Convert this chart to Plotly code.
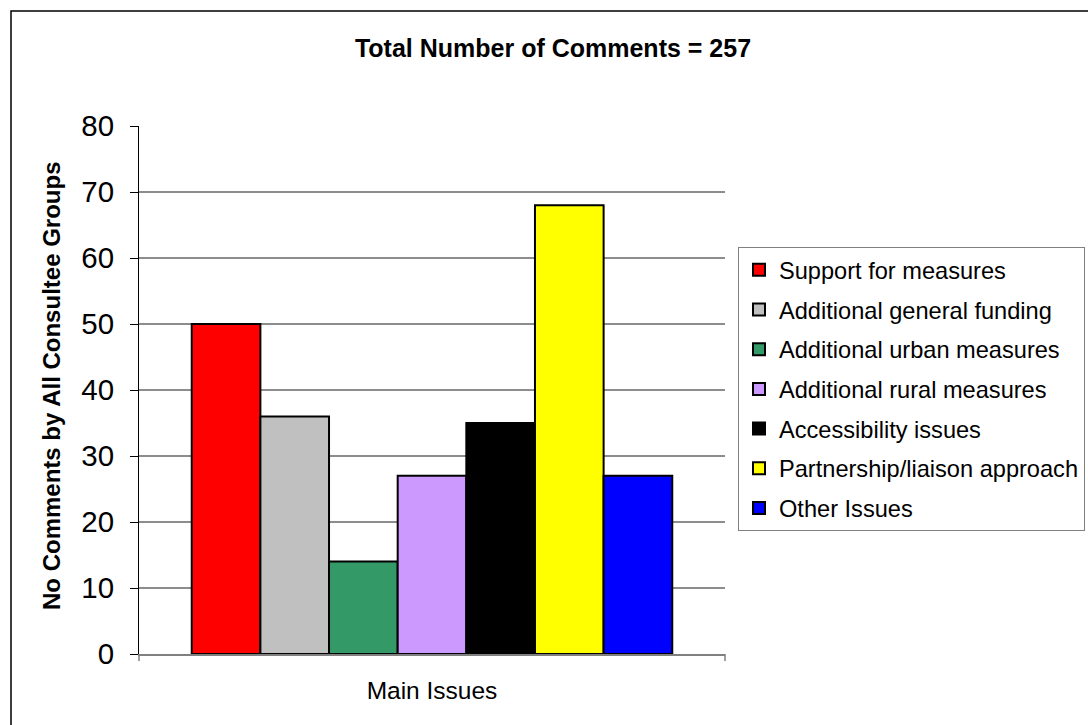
import plotly.graph_objects as go

# ---- data ----
category = ["Main Issues"]
series_names = [
    "Support for measures",
    "Additional general funding",
    "Additional urban measures",
    "Additional rural measures",
    "Accessibility issues",
    "Partnership/liaison approach",
    "Other Issues",
]
series_values = [50, 36, 14, 27, 35, 68, 27]
series_colors = ["#FF0000", "#C0C0C0", "#339966", "#CC99FF", "#000000", "#FFFF00", "#0000FF"]
y_ticks = [0, 10, 20, 30, 40, 50, 60, 70, 80]
grid_vals = [10, 20, 30, 40, 50, 60, 70]
title_text = "Total Number of Comments = 257"
y_title = "No Comments by All Consultee Groups"

W, H = 1088, 725
L, R, T, B = 139, 725, 126, 654  # plot area in px
FONT = "Liberation Sans, Arial, sans-serif"

fig = go.Figure()
for name, val, col in zip(series_names, series_values, series_colors):
    fig.add_trace(go.Bar(
        x=category, y=[val], name=name, legendgroup=name,
        marker=dict(color=col, line=dict(color="#000000", width=2)),
    ))

pw, ph = R - L, B - T

def px_x(v):
    return (v - L) / pw

def px_y(v):
    return (B - v) / ph

shapes = [
    # outer chart border (right/bottom edges fall outside the image)
    dict(type="rect", xref="paper", yref="paper",
         x0=px_x(11), x1=px_x(1110), y0=px_y(745), y1=px_y(11),
         line=dict(color="#000000", width=1.5), fillcolor="rgba(0,0,0,0)", layer="below"),
    # category boundary ticks on the x axis
    dict(type="line", xref="x domain", yref="y domain", x0=0, x1=0, y0=0, y1=-7 / ph,
         line=dict(color="#808080", width=1.5)),
    dict(type="line", xref="x domain", yref="y domain", x0=1, x1=1, y0=0, y1=-7 / ph,
         line=dict(color="#808080", width=1.5)),
]
# horizontal gridlines (not at the top of the axis)
for g in grid_vals:
    shapes.append(dict(type="line", xref="x domain", yref="y", x0=0, x1=1, y0=g, y1=g,
                       line=dict(color="#1a1a1a", width=1), layer="below"))

fig.update_layout(
    width=W, height=H,
    margin=dict(l=L, r=W - R, t=T, b=H - B, autoexpand=False),
    paper_bgcolor="white", plot_bgcolor="rgba(0,0,0,0)",
    font=dict(family=FONT, color="#000000"),
    barmode="group", bargap=0.18, bargroupgap=0,
    showlegend=True,
    title=dict(text=title_text, xref="container", yref="container",
               x=553 / W, xanchor="center", y=1 - 48 / H, yanchor="middle",
               font=dict(family=FONT, size=25, weight="bold", color="#000000")),
    xaxis=dict(
        type="category", showgrid=False, showline=True, linecolor="#808080", linewidth=1.5,
        ticks="", tickfont=dict(family=FONT, size=24.5), ticklabelstandoff=14,
        zeroline=False, fixedrange=True,
    ),
    yaxis=dict(
        range=[0, 80], tickvals=y_ticks, showgrid=False, zeroline=False,
        showline=True, linecolor="#000000", linewidth=1,
        ticks="outside", ticklen=8, tickcolor="#000000", tickwidth=1,
        tickfont=dict(family=FONT, size=29.5), ticklabelstandoff=10,
    ),
    legend=dict(
        xref="container", yref="container", x=738 / W, xanchor="left",
        y=1 - 247 / H, yanchor="top",
        bgcolor="white", bordercolor="#808080", borderwidth=1,
        font=dict(family=FONT, size=23.6, color="#000000"),
        tracegroupgap=6, traceorder="grouped",
    ),
    shapes=shapes,
    annotations=[dict(
        text=y_title, xref="paper", yref="paper", x=px_x(51), y=px_y(386),
        xanchor="center", yanchor="middle", textangle=-90, showarrow=False,
        font=dict(family=FONT, size=24, weight="bold", color="#000000"),
    )],
)

fig.write_html("out.html", config={"displayModeBar": False},
               post_script="document.body.style.margin='0';document.body.style.padding='0';")
